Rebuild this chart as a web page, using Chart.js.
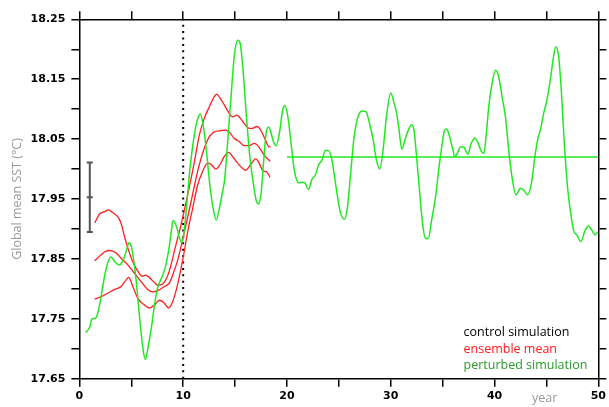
<!DOCTYPE html>
<html><head><meta charset="utf-8">
<script src="https://cdn.jsdelivr.net/npm/chart.js@4/dist/chart.umd.min.js"></script>
<style>
html,body{margin:0;padding:0;background:#fff;}
#wrap{position:relative;width:609px;height:407px;overflow:hidden;}
canvas{position:absolute;left:0;top:0;}
.t{position:absolute;font-family:"Open Sans";font-size:12.5px;white-space:nowrap;line-height:12.5px;}
</style></head><body>
<div id="wrap">
<canvas id="c" width="609" height="407"></canvas>
<div class="t" style="left:463.5px;top:326px;color:#000">control simulation</div>
<div class="t" style="left:463.5px;top:343px;color:#ff1a1a">ensemble mean</div>
<div class="t" style="left:463.5px;top:359px;color:#2a9a2a">perturbed simulation</div>
<div class="t" style="left:532px;top:392px;color:#999">year</div>
</div>
<script>
const greenYears = [0.61,1.02,1.18,1.57,1.76,1.98,2.30,2.62,3.04,3.42,3.83,4.22,4.54,4.76,5.02,5.27,5.50,5.82,6.14,6.35,6.62,6.95,7.26,7.58,7.96,8.29,8.61,8.87,9.02,9.35,9.66,9.88,10.14,10.38,10.62,11.10,11.42,11.65,11.90,12.23,12.55,12.86,13.19,13.51,13.77,13.99,14.30,14.63,14.95,15.26,15.49,15.74,16.07,16.39,16.71,17.03,17.28,17.51,17.76,17.99,18.24,18.47,18.69,18.95,19.27,19.59,19.80,20.07,20.39,20.71,21.12,21.51,21.77,22.06,22.41,22.73,23.05,23.37,23.69,24.01,24.33,24.72,25.13,25.54,25.83,26.16,26.47,26.89,27.27,27.60,27.92,28.30,28.62,28.94,29.26,29.58,30.00,30.32,30.54,30.80,31.06,31.37,31.69,32.02,32.24,32.46,32.79,33.10,33.36,33.61,33.94,34.32,34.64,34.93,35.17,35.38,35.67,35.92,36.18,36.40,36.72,37.04,37.26,37.45,37.69,38.10,38.42,38.74,38.96,39.18,39.44,39.76,40.09,40.40,40.72,41.05,41.36,41.68,42.07,42.49,42.81,43.16,43.55,43.93,44.18,44.41,44.73,45.04,45.37,45.69,45.91,46.17,46.43,46.74,47.06,47.39,47.61,47.93,48.31,48.73,49.05,49.37,49.69,49.94];
const greenValues = [17.727,17.737,17.749,17.751,17.759,17.776,17.809,17.837,17.853,17.845,17.840,17.848,17.865,17.877,17.870,17.843,17.809,17.748,17.698,17.682,17.703,17.737,17.776,17.804,17.820,17.837,17.865,17.898,17.914,17.904,17.884,17.877,17.904,17.948,17.995,18.060,18.085,18.092,18.076,18.032,17.976,17.937,17.915,17.937,17.960,17.982,18.049,18.126,18.193,18.215,18.210,18.171,18.093,18.026,17.982,17.948,17.942,17.960,18.015,18.060,18.070,18.060,18.046,18.039,18.060,18.099,18.106,18.089,18.044,17.998,17.977,17.978,17.976,17.966,17.983,17.990,18.007,18.015,18.031,18.031,18.015,17.971,17.929,17.916,17.937,17.998,18.054,18.090,18.097,18.096,18.079,18.049,18.015,18.000,18.032,18.087,18.127,18.110,18.096,18.065,18.033,18.049,18.065,18.074,18.065,18.026,17.960,17.904,17.884,17.884,17.915,17.954,18.002,18.039,18.064,18.067,18.054,18.037,18.021,18.026,18.037,18.037,18.029,18.025,18.040,18.052,18.043,18.029,18.026,18.054,18.104,18.143,18.165,18.154,18.121,18.087,18.032,17.987,17.957,17.968,17.965,17.957,17.976,18.026,18.051,18.065,18.093,18.115,18.149,18.188,18.204,18.188,18.132,18.037,17.965,17.920,17.898,17.890,17.879,17.898,17.905,17.898,17.890,17.895];

const upperYears = [1.47,1.95,2.43,2.81,3.23,3.71,4.02,4.35,4.67,4.99,5.34,5.77,6.06,6.35,6.69,6.97,7.26,7.55,8.03,8.41,8.80,9.18,9.47,9.79,10.43,11.08,11.56,12.04,12.52,12.93,13.22,13.57,13.96,14.44,14.76,15.17,15.49,15.88,16.36,16.68,17.09,17.47,17.86,18.28,18.43];
const upperValues = [17.910,17.925,17.929,17.932,17.927,17.920,17.909,17.887,17.868,17.852,17.838,17.826,17.821,17.823,17.820,17.815,17.810,17.806,17.808,17.818,17.838,17.865,17.885,17.907,17.957,18.012,18.057,18.085,18.104,18.119,18.125,18.118,18.107,18.093,18.087,18.090,18.085,18.076,18.068,18.068,18.071,18.065,18.051,18.037,18.037];

const meanYears = [1.47,2.10,2.46,2.91,3.54,4.02,4.67,5.31,5.95,6.59,7.07,7.55,8.19,8.67,9.09,9.47,9.76,10.12,10.75,11.39,12.04,12.52,13.00,13.63,14.11,14.53,14.92,15.40,15.88,16.36,16.84,17.16,17.47,17.86,18.38];
const meanValues = [17.847,17.857,17.862,17.864,17.860,17.851,17.840,17.826,17.812,17.799,17.795,17.797,17.804,17.810,17.828,17.848,17.868,17.895,17.945,17.996,18.035,18.054,18.062,18.064,18.065,18.060,18.051,18.046,18.039,18.039,18.043,18.040,18.032,18.022,18.013];

const lowerYears = [1.47,2.10,2.75,3.39,4.02,4.51,4.74,5.15,5.63,6.27,6.75,7.23,7.71,8.19,8.58,8.90,9.28,9.66,10.05,10.43,10.91,11.39,11.87,12.35,12.67,13.15,13.57,13.96,14.37,14.76,15.24,15.72,16.03,16.36,16.68,16.99,17.32,17.64,18.05,18.38];
const lowerValues = [17.783,17.787,17.793,17.799,17.804,17.815,17.819,17.804,17.784,17.773,17.768,17.773,17.781,17.776,17.768,17.775,17.795,17.823,17.857,17.895,17.934,17.973,17.996,18.010,18.008,18.000,18.008,18.021,18.028,18.021,18.010,18.001,17.998,18.004,18.012,18.017,18.010,17.998,17.995,17.986];

const controlYears = [20, 50];
const controlValue = 18.02;
const errorYear = 1;
const errorValues = [17.895, 17.953, 18.011];
const markerYear = 10;

const xTickValues = [0,5,10,15,20,25,30,35,40,45,50];
const xTickLabels = ['0','','10','','20','','30','','40','','50'];
const yTickValues = [17.65,17.70,17.75,17.80,17.85,17.90,17.95,18.00,18.05,18.10,18.15,18.20,18.25];
const yTickLabels = ['17.65','','17.75','','17.85','','17.95','','18.05','','18.15','','18.25'];

function zip(xs, ys){ const n=Math.min(xs.length, ys.length); const out=[]; for(let i=0;i<n;i++) out.push({x:xs[i], y:ys[i]}); return out; }

const GREEN = '#22e822';
const RED = '#ff1f1f';
const lineBase = {pointRadius:0, fill:false, cubicInterpolationMode:'monotone'};

const tickFont = {family:'DejaVu Sans', weight:'bold', size:11};
function gridOpts(){ return {drawOnChartArea:false, drawTicks:true, tickLength:8, color:'#000', lineWidth:1.5}; }
function borderOpts(){ return {display:true, color:'#000', width:1.5}; }

new Chart(document.getElementById('c'), {
  type:'line',
  data:{datasets:[
    Object.assign({data:zip(greenYears, greenValues), borderColor:GREEN, borderWidth:1.5}, lineBase),
    Object.assign({data:zip(upperYears, upperValues), borderColor:RED, borderWidth:1.3}, lineBase),
    Object.assign({data:zip(meanYears, meanValues), borderColor:RED, borderWidth:1.3}, lineBase),
    Object.assign({data:zip(lowerYears, lowerValues), borderColor:RED, borderWidth:1.3}, lineBase),
    {data:controlYears.map(x=>({x:x, y:controlValue})), borderColor:GREEN, borderWidth:1.5, pointRadius:0, tension:0},
    {data:[{x:markerYear, y:yTickValues[0]},{x:markerYear, y:yTickValues[yTickValues.length-1]}], borderColor:'#000', borderWidth:2, borderDash:[2,4.4], pointRadius:0, tension:0},
    {data:errorValues.map(v=>({x:errorYear, y:v})), borderColor:'#555', borderWidth:2, tension:0,
     pointStyle:'line', pointRadius:3, pointBorderWidth:2, pointBorderColor:'#555', pointBackgroundColor:'#555'}
  ]},
  options:{
    responsive:false, animation:false, devicePixelRatio:1,
    layout:{padding:0},
    plugins:{legend:{display:false}, tooltip:{enabled:false}},
    scales:{
      x:{type:'linear', position:'bottom', min:0, max:50,
        afterBuildTicks:s=>{ s.ticks = xTickValues.map(v=>({value:v})); },
        afterFit:s=>{ s.height = 28.3; },
        ticks:{autoSkip:false, maxRotation:0, color:'#000', font:tickFont, padding:3,
          callback:(v,i)=>xTickLabels[i]},
        grid:gridOpts(), border:borderOpts()},
      x2:{type:'linear', position:'top', min:0, max:50,
        afterBuildTicks:s=>{ s.ticks = xTickValues.map(v=>({value:v})); },
        afterFit:s=>{ s.height = 19.3; },
        ticks:{display:false}, grid:gridOpts(), border:borderOpts()},
      y:{type:'linear', position:'left', min:yTickValues[0], max:yTickValues[yTickValues.length-1],
        afterBuildTicks:s=>{ s.ticks = yTickValues.map(v=>({value:v})); },
        afterFit:s=>{ s.width = 79.4; },
        ticks:{autoSkip:false, color:'#000', font:tickFont, padding:6,
          callback:(v,i)=>yTickLabels[i]},
        title:{display:true, text:'Global mean SST (°C)', color:'#999', font:{family:'Open Sans', size:12.5}, padding:{top:9.5, bottom:0}},
        grid:gridOpts(), border:borderOpts()},
      y2:{type:'linear', position:'right', min:yTickValues[0], max:yTickValues[yTickValues.length-1],
        afterBuildTicks:s=>{ s.ticks = yTickValues.map(v=>({value:v})); },
        afterFit:s=>{ s.width = 9; },
        ticks:{display:false}, grid:gridOpts(), border:borderOpts()}
    }
  }
});
</script>
</body></html>
